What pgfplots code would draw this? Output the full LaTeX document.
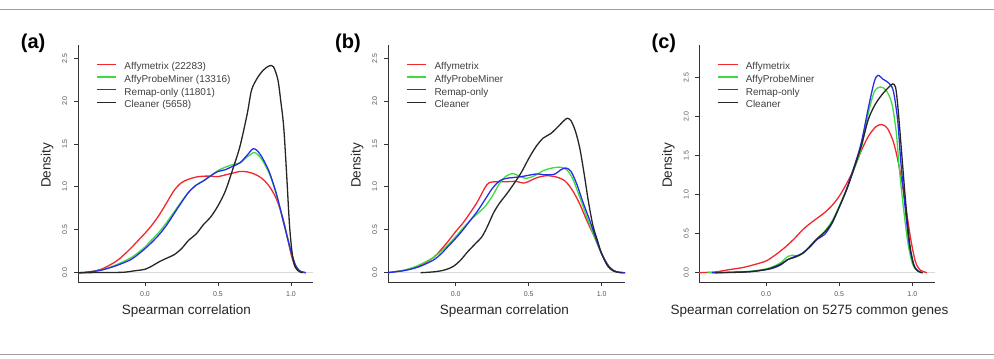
\documentclass[border=0pt]{standalone}
\usepackage{fontspec}
\setmainfont{Liberation Sans}
\usepackage{pgfplots}
\pgfplotsset{compat=1.18}
\definecolor{cRed}{HTML}{F0282D}
\definecolor{cGreen}{HTML}{3CDC3C}
\definecolor{cBlue}{HTML}{2A2AEB}
\definecolor{cBlack}{HTML}{262626}
\definecolor{axgray}{HTML}{333333}
\definecolor{tickgray}{HTML}{555555}
\definecolor{zerogray}{HTML}{D9D9D9}
\definecolor{rulegray}{HTML}{A0A0A0}
\pgfplotsset{
  panel/.style={
    scale only axis,
    axis x line=bottom, axis y line=left,
    axis line style={-, draw=axgray, line width=0.9pt},
    every tick/.style={draw=axgray, line width=0.9pt},
    tick align=outside,
    major tick length=4pt,
    xtick={0,0.5,1},
    ytick={0,0.5,1,1.5,2,2.5},
    /pgf/number format/assume math mode=true,
    tick label style={font=\fontsize{7}{8}\selectfont, text=tickgray},
    xticklabel style={/pgf/number format/fixed, /pgf/number format/fixed zerofill, /pgf/number format/precision=1, inner ysep=5.5pt},
    yticklabel style={/pgf/number format/fixed, /pgf/number format/fixed zerofill, /pgf/number format/precision=1, rotate=90, anchor=south, inner ysep=6.5pt},
    every axis x label/.style={at={(axis description cs:0.5,0)}, anchor=center, yshift=-29pt, font=\fontsize{13.5}{16}\selectfont, text=black!85},
    every axis y label/.style={at={(axis description cs:0,0.5)}, anchor=center, xshift=-30.8pt, yshift=-1.8pt, rotate=90, font=\fontsize{13.5}{16}\selectfont, text=black!85},
    legend style={draw=none, fill=none, at={(0,1)}, anchor=north west, xshift=18pt, yshift=-17pt, font=\fontsize{10}{12}\selectfont, text=black!75, inner sep=0pt, row sep=2.7pt, column sep=7.5pt, nodes={inner sep=0pt, text height=7.5pt, text depth=2.5pt}},
    legend cell align=left,
    legend image code/.code={\draw[line width=1.3pt, #1] (0pt,2.8pt) -- (19.5pt,2.8pt);},
    every axis plot/.append style={line width=1.3pt, smooth, tension=0.5},
  }
}
\begin{document}
\begin{tikzpicture}[x=1pt,y=1pt]
\path[use as bounding box] (0,0) rectangle (994,359);
\draw[rulegray, line width=1.2pt] (0,349.5) -- (994,349.5);
\draw[rulegray, line width=1.2pt] (0,4.8) -- (994,4.8);
% ---------------- (a)
\begin{axis}[panel, at={(78pt,77pt)}, anchor=south west, width=235pt, height=237pt,
  xmin=-0.4589, xmax=1.1507, ymin=-0.1084, ymax=2.654,
  xlabel={Spearman correlation}, ylabel={Density}, xlabel style={xshift=-9pt}]
\addplot[zerogray, line width=1.2pt, forget plot] coordinates {(-0.5,0) (1.2,0)};
\addplot[cRed] coordinates {(-0.46,0) (-0.40,0.005) (-0.30,0.04) (-0.20,0.13) (-0.15,0.20) (-0.10,0.28) (-0.05,0.37) (0.00,0.46) (0.05,0.56) (0.10,0.68) (0.15,0.82) (0.20,0.96) (0.25,1.05) (0.30,1.09) (0.35,1.115) (0.40,1.125) (0.45,1.125) (0.50,1.12) (0.55,1.14) (0.60,1.16) (0.65,1.18) (0.70,1.175) (0.75,1.15) (0.80,1.10) (0.85,1.01) (0.90,0.86) (0.95,0.60) (1.00,0.22) (1.03,0.07) (1.06,0.02) (1.10,0)};
\addlegendentry{Affymetrix (22283)}
\addplot[cGreen] coordinates {(-0.46,0) (-0.40,0.005) (-0.30,0.03) (-0.20,0.09) (-0.10,0.17) (-0.05,0.23) (0.00,0.30) (0.05,0.39) (0.10,0.48) (0.15,0.59) (0.20,0.71) (0.25,0.83) (0.30,0.94) (0.35,1.02) (0.40,1.07) (0.45,1.13) (0.50,1.19) (0.55,1.23) (0.60,1.26) (0.65,1.28) (0.70,1.35) (0.745,1.40) (0.77,1.38) (0.80,1.32) (0.85,1.16) (0.90,0.91) (0.95,0.58) (1.00,0.25) (1.03,0.09) (1.06,0.02) (1.10,0)};
\addlegendentry{AffyProbeMiner (13316)}
\addplot[cBlue] coordinates {(-0.46,0) (-0.40,0.005) (-0.30,0.03) (-0.20,0.08) (-0.10,0.15) (-0.05,0.21) (0.00,0.28) (0.05,0.36) (0.10,0.45) (0.15,0.56) (0.20,0.69) (0.25,0.82) (0.30,0.94) (0.35,1.02) (0.40,1.07) (0.45,1.13) (0.50,1.18) (0.55,1.20) (0.60,1.24) (0.65,1.28) (0.70,1.37) (0.74,1.445) (0.77,1.42) (0.80,1.35) (0.85,1.18) (0.90,0.92) (0.95,0.58) (1.00,0.25) (1.03,0.09) (1.06,0.02) (1.10,0)};
\addlegendentry{Remap-only (11801)}
\addplot[cBlack] coordinates {(-0.46,0) (-0.30,0.002) (-0.15,0.005) (-0.08,0.02) (0.00,0.04) (0.05,0.08) (0.10,0.13) (0.15,0.17) (0.20,0.21) (0.25,0.28) (0.30,0.38) (0.35,0.45) (0.40,0.56) (0.45,0.65) (0.50,0.78) (0.55,0.95) (0.60,1.20) (0.65,1.47) (0.70,1.85) (0.73,2.13) (0.77,2.27) (0.81,2.36) (0.85,2.41) (0.88,2.40) (0.91,2.25) (0.93,2.0) (0.95,1.7) (0.97,1.15) (0.99,0.55) (1.01,0.2) (1.03,0.06) (1.06,0.01) (1.08,0)};
\addlegendentry{Cleaner (5658)}
\end{axis}
% ---------------- (b)
\begin{axis}[panel, at={(388pt,77pt)}, anchor=south west, width=237pt, height=237pt,
  xmin=-0.4637, xmax=1.1596, ymin=-0.1084, ymax=2.654,
  xlabel={Spearman correlation}, ylabel={Density}, xlabel style={xshift=-2pt}]
\addplot[zerogray, line width=1.2pt, forget plot] coordinates {(-0.5,0) (1.2,0)};
\addplot[cRed] coordinates {(-0.47,0) (-0.35,0.03) (-0.25,0.08) (-0.15,0.18) (-0.10,0.27) (-0.05,0.37) (0.00,0.48) (0.05,0.58) (0.10,0.70) (0.15,0.83) (0.20,0.99) (0.23,1.05) (0.28,1.06) (0.35,1.06) (0.41,1.065) (0.47,1.045) (0.52,1.08) (0.56,1.11) (0.62,1.13) (0.68,1.12) (0.73,1.09) (0.76,1.05) (0.80,0.96) (0.85,0.80) (0.90,0.60) (0.95,0.42) (1.00,0.22) (1.05,0.07) (1.10,0.01) (1.16,0)};
\addlegendentry{Affymetrix}
\addplot[cGreen] coordinates {(-0.47,0) (-0.35,0.03) (-0.25,0.09) (-0.15,0.18) (-0.10,0.25) (-0.05,0.33) (0.00,0.42) (0.05,0.52) (0.10,0.61) (0.15,0.69) (0.20,0.77) (0.25,0.89) (0.30,1.04) (0.34,1.12) (0.39,1.155) (0.43,1.13) (0.48,1.10) (0.54,1.13) (0.60,1.19) (0.66,1.22) (0.72,1.23) (0.76,1.20) (0.80,1.10) (0.85,0.88) (0.90,0.64) (0.95,0.42) (1.00,0.22) (1.05,0.07) (1.10,0.01) (1.16,0)};
\addlegendentry{AffyProbeMiner}
\addplot[cBlue] coordinates {(-0.47,0) (-0.35,0.025) (-0.25,0.07) (-0.15,0.15) (-0.10,0.22) (-0.05,0.31) (0.00,0.40) (0.05,0.50) (0.10,0.61) (0.15,0.72) (0.20,0.85) (0.25,0.98) (0.30,1.07) (0.35,1.10) (0.45,1.12) (0.55,1.15) (0.62,1.14) (0.68,1.15) (0.72,1.20) (0.755,1.22) (0.79,1.18) (0.83,1.03) (0.87,0.83) (0.92,0.60) (0.96,0.40) (1.00,0.22) (1.05,0.07) (1.10,0.01) (1.16,0)};
\addlegendentry{Remap-only}
\addplot[cBlack] coordinates {(-0.24,0) (-0.15,0.01) (-0.08,0.03) (-0.02,0.07) (0.03,0.14) (0.08,0.24) (0.13,0.33) (0.18,0.42) (0.22,0.55) (0.26,0.70) (0.30,0.81) (0.35,0.92) (0.40,1.04) (0.45,1.17) (0.50,1.33) (0.55,1.47) (0.60,1.57) (0.65,1.62) (0.70,1.70) (0.74,1.77) (0.765,1.80) (0.79,1.77) (0.82,1.65) (0.85,1.45) (0.88,1.15) (0.91,0.82) (0.94,0.55) (0.97,0.38) (1.00,0.22) (1.04,0.08) (1.08,0.02) (1.14,0)};
\addlegendentry{Cleaner}
\end{axis}
% ---------------- (c)
\begin{axis}[panel, at={(699.3pt,77pt)}, anchor=south west, width=235.7pt, height=237pt,
  xmin=-0.4568, xmax=1.155, ymin=-0.119, ymax=2.919,
  xlabel={Spearman correlation on 5275 common genes}, ylabel={Density}, xlabel style={xshift=-7.6pt}]
\addplot[zerogray, line width=1.2pt, forget plot] coordinates {(-0.5,0) (1.2,0)};
\addplot[cRed] coordinates {(-0.46,0) (-0.35,0.01) (-0.25,0.04) (-0.15,0.07) (-0.05,0.12) (0.00,0.15) (0.05,0.21) (0.10,0.28) (0.15,0.36) (0.20,0.45) (0.25,0.55) (0.30,0.63) (0.35,0.70) (0.40,0.77) (0.45,0.86) (0.50,0.98) (0.55,1.14) (0.60,1.33) (0.65,1.56) (0.70,1.75) (0.75,1.87) (0.79,1.90) (0.83,1.85) (0.87,1.68) (0.90,1.45) (0.93,1.15) (0.96,0.78) (0.99,0.42) (1.02,0.15) (1.05,0.04) (1.10,0)};
\addlegendentry{Affymetrix}
\addplot[cGreen] coordinates {(-0.40,0) (-0.25,0.005) (-0.10,0.02) (0.00,0.05) (0.05,0.08) (0.10,0.13) (0.15,0.21) (0.18,0.225) (0.22,0.215) (0.26,0.26) (0.30,0.34) (0.35,0.43) (0.40,0.53) (0.45,0.66) (0.50,0.85) (0.55,1.07) (0.60,1.32) (0.65,1.59) (0.70,2.05) (0.74,2.32) (0.78,2.38) (0.82,2.34) (0.86,2.17) (0.89,1.80) (0.91,1.35) (0.94,0.82) (0.97,0.38) (1.00,0.12) (1.03,0.03) (1.06,0)};
\addlegendentry{AffyProbeMiner}
\addplot[cBlue] coordinates {(-0.37,0) (-0.25,0.005) (-0.10,0.015) (0.00,0.04) (0.05,0.06) (0.10,0.10) (0.15,0.17) (0.20,0.21) (0.25,0.25) (0.30,0.33) (0.35,0.43) (0.40,0.49) (0.45,0.63) (0.50,0.84) (0.55,1.07) (0.60,1.35) (0.65,1.66) (0.70,2.12) (0.74,2.45) (0.765,2.53) (0.80,2.48) (0.84,2.43) (0.87,2.33) (0.90,1.95) (0.92,1.45) (0.95,0.85) (0.98,0.35) (1.01,0.10) (1.04,0.02) (1.07,0)};
\addlegendentry{Remap-only}
\addplot[cBlack] coordinates {(-0.35,0) (-0.20,0.005) (-0.10,0.015) (0.00,0.04) (0.05,0.07) (0.10,0.11) (0.15,0.17) (0.20,0.20) (0.25,0.25) (0.30,0.34) (0.35,0.44) (0.40,0.52) (0.45,0.64) (0.50,0.84) (0.55,1.06) (0.60,1.33) (0.65,1.62) (0.70,1.97) (0.75,2.17) (0.80,2.30) (0.84,2.38) (0.865,2.42) (0.885,2.38) (0.90,2.15) (0.92,1.70) (0.95,1.00) (0.98,0.40) (1.01,0.10) (1.04,0.02) (1.07,0)};
\addlegendentry{Cleaner}
\end{axis}
\node[anchor=west, inner sep=0pt, font=\fontsize{20}{24}\selectfont\bfseries] at (20.7,316) {(a)};
\node[anchor=west, inner sep=0pt, font=\fontsize{20}{24}\selectfont\bfseries] at (335,316) {(b)};
\node[anchor=west, inner sep=0pt, font=\fontsize{20}{24}\selectfont\bfseries] at (651.5,316) {(c)};
\end{tikzpicture}
\end{document}
